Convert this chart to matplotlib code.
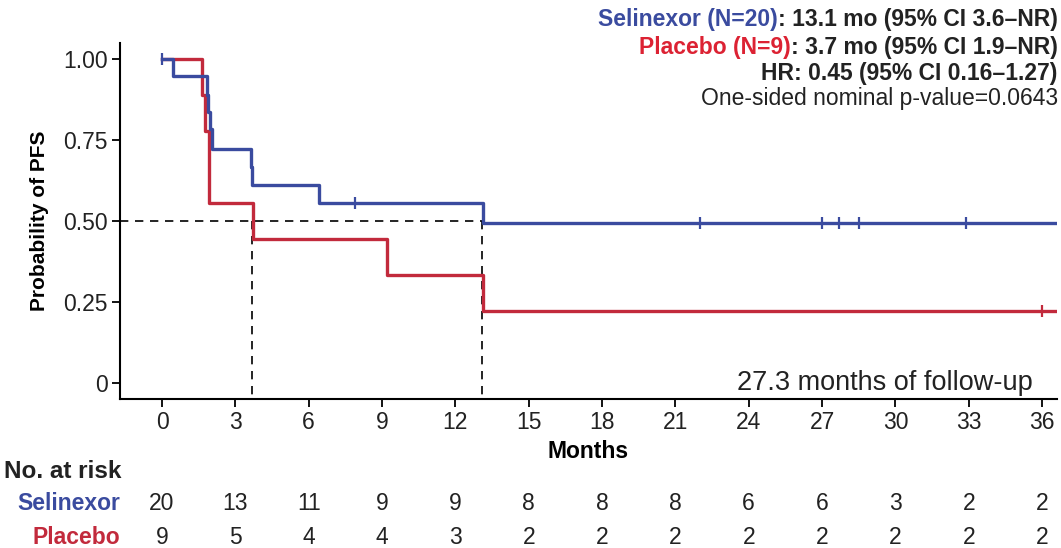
import matplotlib.pyplot as plt
from matplotlib import transforms

plt.rcParams['font.family'] = ['Liberation Sans', 'DejaVu Sans']

# Kaplan-Meier steps (months, survival after the step)
sel_times = [0, 0.45, 1.83, 1.90, 1.97, 2.05, 3.62, 3.68, 6.42, 13.13]
sel_surv = [1.0, 0.948, 0.89, 0.837, 0.784, 0.722, 0.668, 0.613, 0.556, 0.494]
sel_censor = [0, 7.9, 22.0, 27.0, 27.7, 28.5, 32.9]
sel_end = 36.6

pla_times = [0, 1.65, 1.76, 1.94, 3.71, 9.2, 13.13]
pla_surv = [1.0, 0.889, 0.778, 0.556, 0.444, 0.333, 0.222]
pla_censor = [36.0]
pla_end = 36.6

median_sel = 13.1
median_pla = 3.7

risk_months = [0, 3, 6, 9, 12, 15, 18, 21, 24, 27, 30, 33, 36]
risk_sel = [20, 13, 11, 9, 9, 8, 8, 8, 6, 6, 3, 2, 2]
risk_pla = [9, 5, 4, 4, 3, 2, 2, 2, 2, 2, 2, 2, 2]

blue = '#3a4b9f'
red = '#c22a3c'
txt = '#222222'


def step_value(times, surv, t):
    s = surv[0]
    for ti, si in zip(times, surv):
        if ti <= t:
            s = si
    return s


fig = plt.figure(figsize=(10.61, 5.48), dpi=100)
ax = fig.add_axes([0.1131, 0.2719, 0.8829, 0.6493])

for times, surv, end, cens, col in [(pla_times, pla_surv, pla_end, pla_censor, red),
                                      (sel_times, sel_surv, sel_end, sel_censor, blue)]:
    ax.step(times + [end], surv + [surv[-1]], where='post', color=col, lw=2.4, zorder=3)
    ax.plot(cens, [step_value(times, surv, c) for c in cens], ls='none', marker='|',
            ms=9, mew=1.6, color=col, zorder=4)

# median lines
ax.plot([-1.72, median_sel], [0.5, 0.5], ls=(0, (5, 4)), color='black', lw=1.2, zorder=2)
for m in [median_pla, median_sel]:
    ax.plot([m, m], [0.5, -0.05], ls=(0, (5, 4)), color='black', lw=1.2, zorder=2)

ax.set_xlim(-1.72, 36.6)
ax.set_ylim(-0.05, 1.05)
ax.set_xticks(risk_months)
ax.set_yticks([0, 0.25, 0.5, 0.75, 1.0])
ax.set_yticklabels(['0', '0.25', '0.50', '0.75', '1.00'])
for s in ['top', 'right']:
    ax.spines[s].set_visible(False)
for s in ['left', 'bottom']:
    ax.spines[s].set_linewidth(1.5)
ax.tick_params(axis='both', direction='out', length=6, width=1.3, labelsize=16.5,
               labelcolor=txt, pad=3)
ax.set_xlabel('Months', fontsize=16.5, fontweight='bold', labelpad=4)
ax.set_ylabel('Probability of PFS', fontsize=15, fontweight='bold', labelpad=10)

ax.text(35.6, 0.0, '27.3 months of follow-up', fontsize=19.5, color=txt,
        ha='right', va='center')

# summary text, right aligned
rx = 0.997
t1 = fig.text(rx, 0.965, ': 13.1 mo (95% CI 3.6\u2013NR)', fontsize=16.5, fontweight='bold',
              ha='right', va='center', color=txt)
ax.annotate('Selinexor (N=20)', xy=(0, 0), xycoords=t1, fontsize=16.5, fontweight='bold',
            color=blue, ha='right', va='bottom', annotation_clip=False)
t2 = fig.text(rx, 0.913, ': 3.7 mo (95% CI 1.9\u2013NR)', fontsize=16.5, fontweight='bold',
              ha='right', va='center', color=txt)
ax.annotate('Placebo (N=9)', xy=(0, 0), xycoords=t2, fontsize=16.5, fontweight='bold',
            color='#dc2233', ha='right', va='bottom', annotation_clip=False)
fig.text(rx, 0.866, 'HR: 0.45 (95% CI 0.16\u20131.27)', fontsize=16.5, fontweight='bold',
         ha='right', va='center', color=txt)
fig.text(rx, 0.820, 'One-sided nominal p-value=0.0643', fontsize=16.5,
         ha='right', va='center', color=txt)

# number at risk table
tr = transforms.blended_transform_factory(ax.transData, fig.transFigure)
fig.text(0.004, 0.140, 'No. at risk', fontsize=17.5, fontweight='bold', ha='left',
         va='center', color=txt)
fig.text(0.113, 0.082, 'Selinexor', fontsize=16.5, fontweight='bold', ha='right',
         va='center', color=blue)
fig.text(0.113, 0.020, 'Placebo', fontsize=16.5, fontweight='bold', ha='right',
         va='center', color=red)
for m, a, b in zip(risk_months, risk_sel, risk_pla):
    fig.text(m, 0.082, str(a), transform=tr, fontsize=16.5, ha='center', va='center', color=txt)
    fig.text(m, 0.020, str(b), transform=tr, fontsize=16.5, ha='center', va='center', color=txt)

fig.savefig('out.png', dpi=100)
